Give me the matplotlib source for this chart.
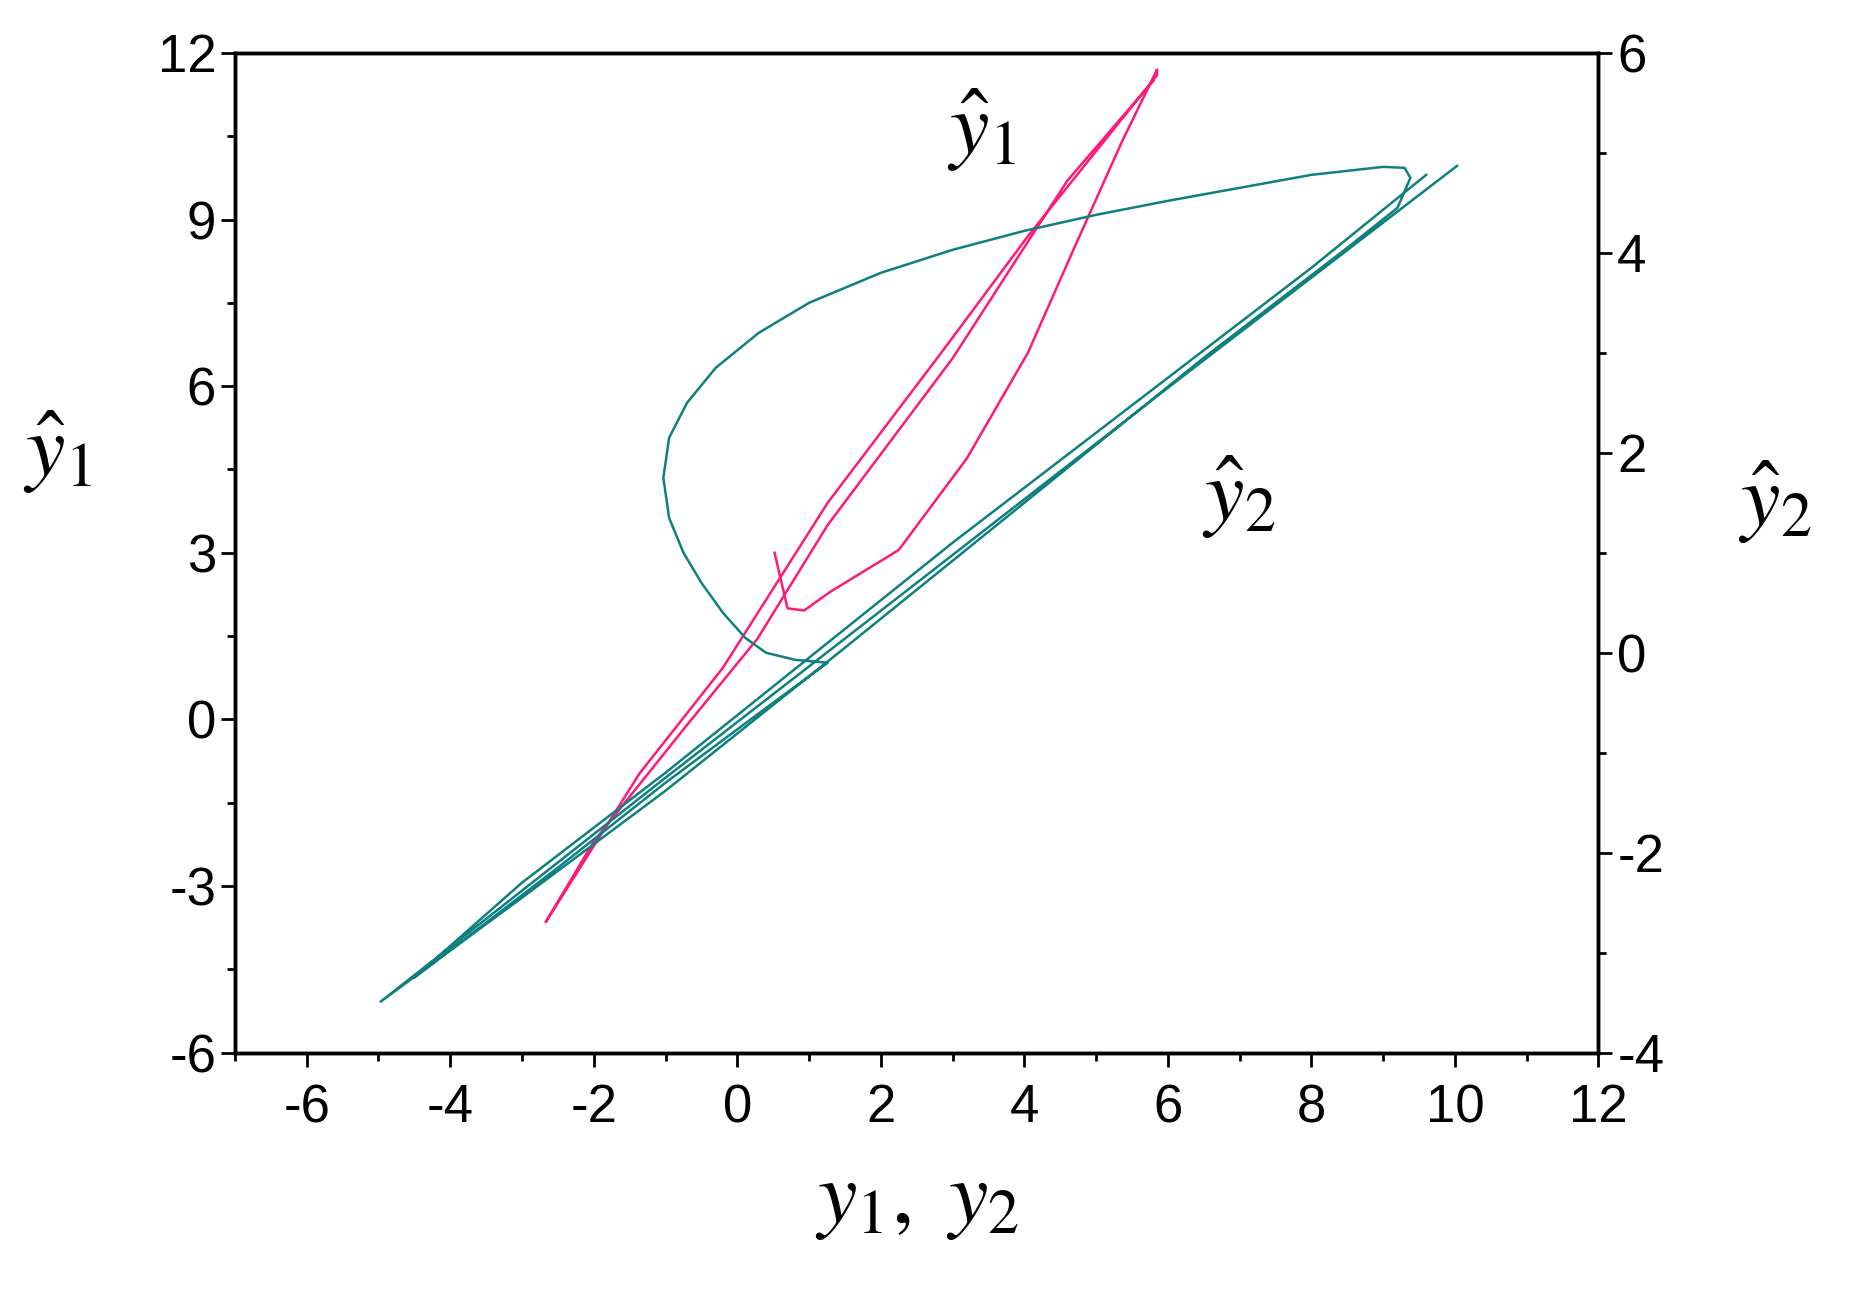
import numpy as np
import matplotlib.pyplot as plt
from matplotlib.ticker import MultipleLocator

plt.rcParams['font.family'] = ['Liberation Sans', 'DejaVu Sans']
plt.rcParams['mathtext.fontset'] = 'stix'
plt.rcParams['axes.unicode_minus'] = False

# y1-hat vs y1 (left axis)
y1 = [0.52, 0.7, 0.93, 1.3, 2.25, 3.2, 4.05, 4.7, 5.36, 5.85,
      5.85, 4.05, 2.9, 1.26, 0.11, -0.2, -1.36, -2.67,
      -2.0, -0.7, 0.28, 1.26, 3.0, 4.6, 5.8]
y1_hat = [3.0, 2.0, 1.96, 2.3, 3.05, 4.7, 6.6, 8.5, 10.4, 11.7,
          11.6, 8.7, 6.7, 3.9, 1.56, 0.93, -0.97, -3.65,
          -2.2, -0.1, 1.45, 3.5, 6.5, 9.7, 11.5]

# y2-hat vs y2 (right axis)
y2 = [10.03, 6.0, 2.0, -1.0, -3.0, -4.97,
      -3.0, -1.0, 1.5, 4.0, 6.5, 8.5, 9.2, 9.38, 9.3, 9.0,
      8.0, 7.0, 6.0, 5.0, 4.0, 3.0, 2.0, 1.0, 0.3, -0.3, -0.7, -0.95,
      -1.03, -0.95, -0.75, -0.5, -0.2, 0.11, 0.4, 0.8, 1.26,
      0.5, -1.0, -2.5, -4.5,
      -3.0, -1.0, 1.0, 3.0, 5.0, 8.0, 9.6]
y2_hat = [4.87, 2.65, 0.42, -1.25, -2.38, -3.49,
          -2.45, -1.38, 0.05, 1.5, 2.95, 4.05, 4.45, 4.75, 4.85, 4.86,
          4.78, 4.65, 4.52, 4.38, 4.22, 4.03, 3.8, 3.5, 3.2, 2.85, 2.5, 2.15,
          1.75, 1.35, 1.0, 0.7, 0.4, 0.15, 0.0, -0.07, -0.1,
          -0.5, -1.3, -2.15, -3.25,
          -2.3, -1.2, -0.05, 1.1, 2.2, 3.85, 4.78]

fig = plt.figure(figsize=(18.5, 12.9), dpi=100)
ax = fig.add_axes([0.127, 0.184, 0.737, 0.775])
ax2 = ax.twinx()

ax.plot(y1, y1_hat, color='#ff1a7a', lw=1.8)
ax2.plot(y2, y2_hat, color='#0f8080', lw=1.8)

ax.set_xlim(-7, 12)
ax.set_ylim(-6, 12)
ax2.set_ylim(-4, 6)
ax.set_xticks(range(-6, 13, 2))
ax.set_yticks(range(-6, 13, 3))
ax2.set_yticks(range(-4, 7, 2))
ax.xaxis.set_minor_locator(MultipleLocator(1))
ax.yaxis.set_minor_locator(MultipleLocator(1.5))
ax2.yaxis.set_minor_locator(MultipleLocator(1))

for a in (ax, ax2):
    a.tick_params(which='major', direction='out', length=10, width=2, labelsize=38)
    a.tick_params(which='minor', direction='out', length=6, width=2)
    for s in a.spines.values():
        s.set_linewidth(2.5)
ax.tick_params(axis='x', pad=12)

ax.set_xlabel(r'$y_1,\ y_2$', fontsize=64, labelpad=18)
ax.text(-0.13, 0.6, r'$\hat{y}_1$', transform=ax.transAxes, fontsize=64,
        ha='center', va='center')
ax.text(1.13, 0.55, r'$\hat{y}_2$', transform=ax.transAxes, fontsize=64,
        ha='center', va='center')
ax.text(3.4, 10.6, r'$\hat{y}_1$', fontsize=64, ha='center', va='center')
ax.text(7.0, 4.0, r'$\hat{y}_2$', fontsize=64, ha='center', va='center')

fig.savefig('out.png', dpi=100)
